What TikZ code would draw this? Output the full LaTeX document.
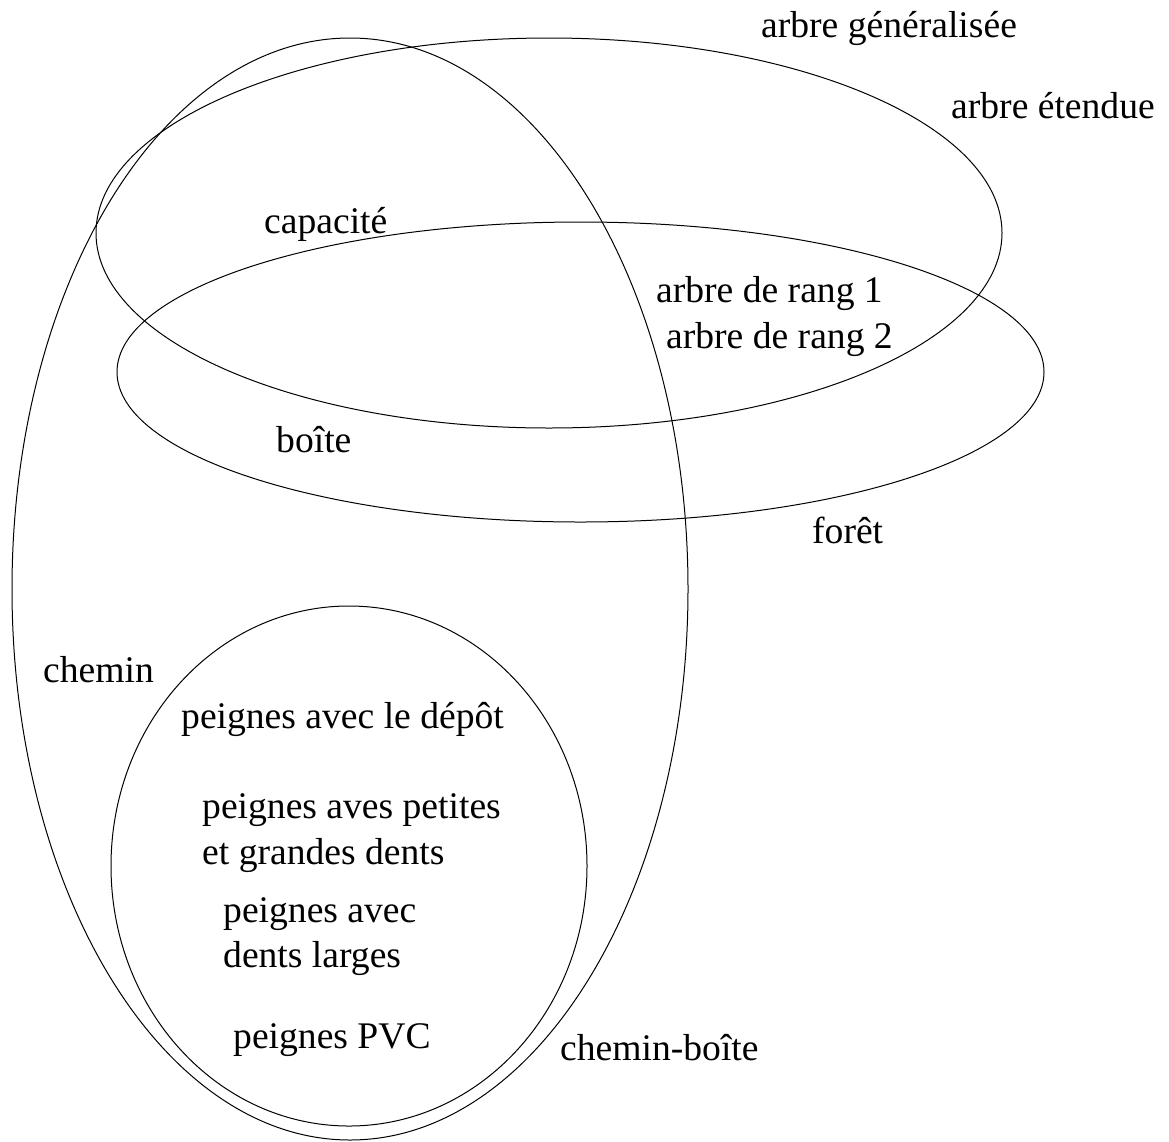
\documentclass[tikz,border=0pt]{standalone}
\usepackage{fontspec}
\setmainfont{Liberation Serif}
\begin{document}
\begin{tikzpicture}[x=1pt,y=-1pt,
  setline/.style={draw=black,line width=1pt},
  lab/.style={anchor=base west,inner sep=0pt,font=\fontsize{37.6}{45}\selectfont}]
\useasboundingbox (0,0) rectangle (1169,1141);
% sets
\coordinate (cChemin) at (350,589);
\coordinate (cEtendue) at (549,233);
\coordinate (cForet) at (580.5,372);
\coordinate (cPeignes) at (349,866);
\draw[setline] (cChemin) ellipse [x radius=338, y radius=551];
\draw[setline] (cEtendue) ellipse [x radius=453, y radius=195];
\draw[setline] (cForet) ellipse [x radius=463.5, y radius=150];
\draw[setline] (cPeignes) ellipse [x radius=238, y radius=260];
% labels
\node[lab] (gen) at (761,37) {arbre généralisée};
\node[lab] (ete) at (951,118) {arbre étendue};
\node[lab] (cap) at (264,233) {capacité};
\node[lab] (r1) at (656,302) {arbre de rang 1};
\node[lab] (r2) at (666,348) {arbre de rang 2};
\node[lab] (boite) at (276,452) {boîte};
\node[lab] (foret) at (812,543) {forêt};
\node[lab] (chemin) at (43,682) {chemin};
\node[lab] (pdep) at (181,728) {peignes avec le dépôt};
\node[lab] (ppa) at (202,818) {peignes aves petites};
\node[lab] (ppb) at (202,864) {et grandes dents};
\node[lab] (pla) at (223,922) {peignes avec};
\node[lab] (plb) at (223,967) {dents larges};
\node[lab] (pvc) at (233,1048) {peignes PVC};
\node[lab] (cb) at (560,1060) {chemin-boîte};
\end{tikzpicture}
\end{document}
